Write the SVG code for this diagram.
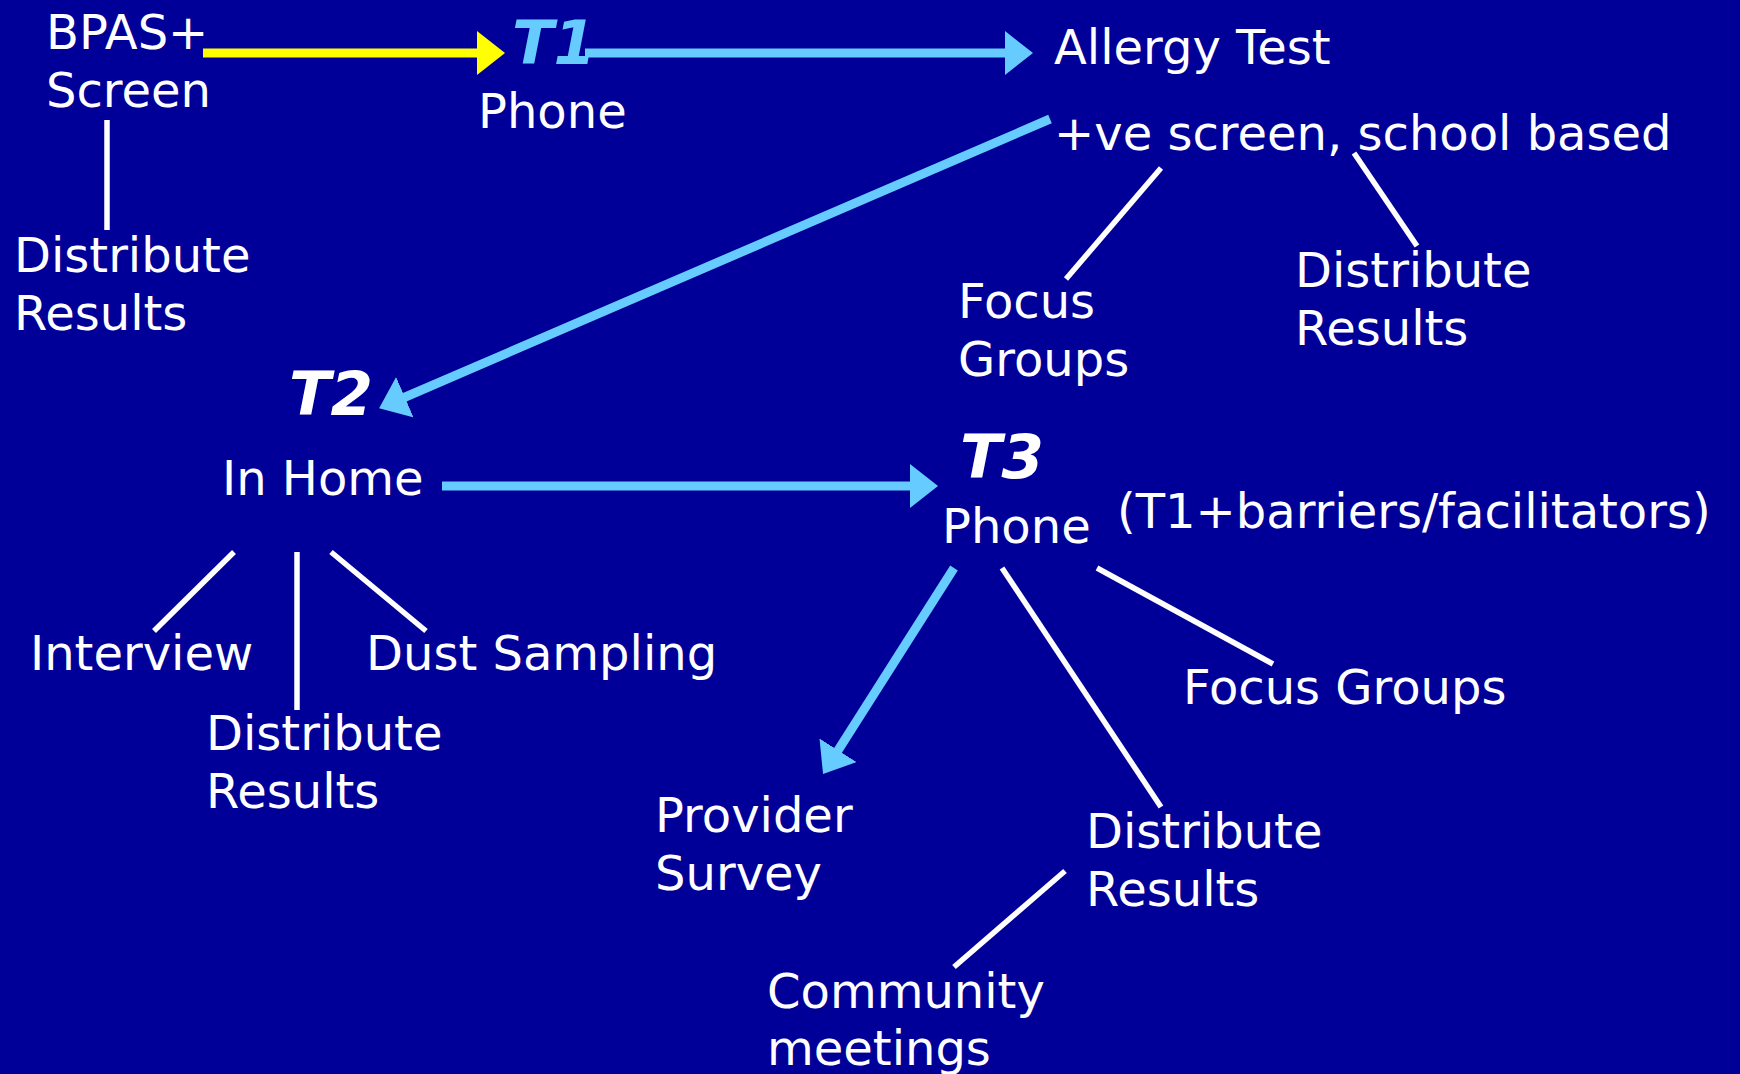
<svg xmlns="http://www.w3.org/2000/svg" width="1740" height="1074" viewBox="0 0 1740 1074">
<style>
.t{font-family:"DejaVu Sans","Verdana",sans-serif;font-size:48px;fill:#fff}
.tb{font-family:"DejaVu Sans","Verdana",sans-serif;font-size:61px;font-weight:bold;font-style:italic;fill:#fff}
.blue{fill:#66CCFF}
.w{stroke:#fff;stroke-width:5.5;fill:none}
.a{stroke:#66CCFF;stroke-width:9;fill:none;marker-end:url(#hb)}
.y{stroke:#FFFF00;stroke-width:9;fill:none;marker-end:url(#hy)}
</style>
<defs>
<marker id="hb" markerUnits="userSpaceOnUse" viewBox="0 0 28 44" markerWidth="28" markerHeight="44" refX="2" refY="22" orient="auto"><path d="M0,0 L28,22 L0,44 z" fill="#66CCFF"/></marker>
<marker id="hy" markerUnits="userSpaceOnUse" viewBox="0 0 28 44" markerWidth="28" markerHeight="44" refX="2" refY="22" orient="auto"><path d="M0,0 L28,22 L0,44 z" fill="#FFFF00"/></marker>
</defs>
<rect width="1740" height="1074" fill="#000099"/>
<g id="connectors">
<line class="y" x1="203" y1="53" x2="479" y2="53"/>
<line class="a" x1="585" y1="53" x2="1007" y2="53"/>
<line class="a" x1="1050" y1="119" x2="403" y2="398"/>
<line class="a" x1="442" y1="486" x2="912" y2="486"/>
<line class="a" x1="954" y1="568" x2="837" y2="752"/>
<line class="w" x1="107" y1="120" x2="107" y2="230"/>
<line class="w" x1="1161" y1="168" x2="1066" y2="279"/>
<line class="w" x1="1354" y1="153" x2="1417" y2="246"/>
<line class="w" x1="234" y1="552" x2="154" y2="631"/>
<line class="w" x1="297" y1="552" x2="297" y2="710"/>
<line class="w" x1="331" y1="552" x2="426" y2="631"/>
<line class="w" x1="1002" y1="568" x2="1161" y2="807"/>
<line class="w" x1="1097" y1="568" x2="1273" y2="664"/>
<line class="w" x1="1065" y1="871" x2="954" y2="967"/>
</g>
<g id="bpas"><text class="t" x="46" y="49">BPAS+</text><text class="t" x="46" y="107">Screen</text></g>
<g id="dist1"><text class="t" x="14" y="272">Distribute</text><text class="t" x="14" y="330">Results</text></g>
<g id="t1"><text class="tb blue" x="512" y="64">T1</text><text class="t" x="478" y="128">Phone</text></g>
<g id="allergy"><text class="t" x="1054" y="64">Allergy Test</text><text class="t" x="1054" y="150">+ve screen, school based</text></g>
<g id="focus1"><text class="t" x="958" y="318">Focus</text><text class="t" x="958" y="376">Groups</text></g>
<g id="dist2"><text class="t" x="1295" y="287">Distribute</text><text class="t" x="1295" y="345">Results</text></g>
<g id="t2"><text class="tb" x="289" y="415">T2</text><text class="t" x="222" y="495">In Home</text></g>
<g id="interview"><text class="t" x="30" y="670">Interview</text></g>
<g id="dust"><text class="t" x="366" y="670">Dust Sampling</text></g>
<g id="dist3"><text class="t" x="206" y="750">Distribute</text><text class="t" x="206" y="808">Results</text></g>
<g id="t3"><text class="tb" x="960" y="478">T3</text><text class="t" x="942" y="543">Phone</text><text class="t" x="1117" y="528">(T1+barriers/facilitators)</text></g>
<g id="focus2"><text class="t" x="1183" y="704">Focus Groups</text></g>
<g id="provider"><text class="t" x="655" y="832">Provider</text><text class="t" x="655" y="890">Survey</text></g>
<g id="dist4"><text class="t" x="1086" y="848">Distribute</text><text class="t" x="1086" y="906">Results</text></g>
<g id="community"><text class="t" x="767" y="1008">Community</text><text class="t" x="767" y="1065">meetings</text></g>
</svg>
